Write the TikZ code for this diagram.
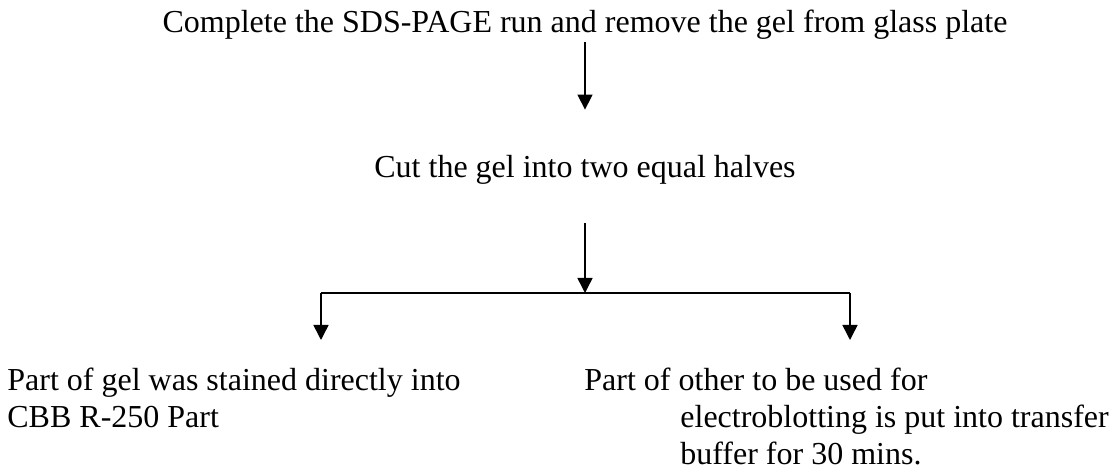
\documentclass[tikz,border=0pt]{standalone}
\usepackage{fontspec}
\setmainfont{Liberation Serif}
\usetikzlibrary{positioning,calc,arrows.meta}

\tikzset{
	steptext/.style={inner sep=0pt, font=\fontsize{16}{18.5}\selectfont},
	onerow/.style={steptext, text height=11pt, text depth=3.5pt},
	flow/.style={line width=0.75pt, -{Triangle[length=7.5pt,width=7.5pt]}},
	branch/.style={line width=0.75pt},
}

\begin{document}
\begin{tikzpicture}[x=0.5pt,y=-0.5pt]
	\useasboundingbox (0,0) rectangle (1115,470);

	% steps of the procedure
	\node[onerow, anchor=base] (run) at (585,33)
		{Complete the SDS-PAGE run and remove the gel from glass plate};
	\node[onerow, anchor=base] (cut) at (585,178)
		{Cut the gel into two equal halves};
	\node[steptext, anchor=north west, align=left] (stain) at (7,368)
		{Part of gel was stained directly into\\
		CBB R-250 Part};
	\node[steptext, anchor=north west, align=left] (blot) at (584,368)
		{Part of other to be used for\\
		\hspace*{48pt}electroblotting is put into transfer\\
		\hspace*{48pt}buffer for 30 mins.};

	% split into the two halves
	\coordinate (split) at (585,293);
	\coordinate (lbranch) at (321,293);
	\coordinate (rbranch) at (850,293);

	\draw[flow, shorten <=1pt, shorten >=23pt] (run.south) -- (cut.north);
	\draw[flow, shorten <=19pt] (cut.south) -- (split);
	\draw[branch] (lbranch) -- (rbranch);
	\draw[flow, shorten >=14pt] (lbranch) -- (lbranch |- stain.north);
	\draw[flow, shorten >=14pt] (rbranch) -- (rbranch |- blot.north);
\end{tikzpicture}
\end{document}
